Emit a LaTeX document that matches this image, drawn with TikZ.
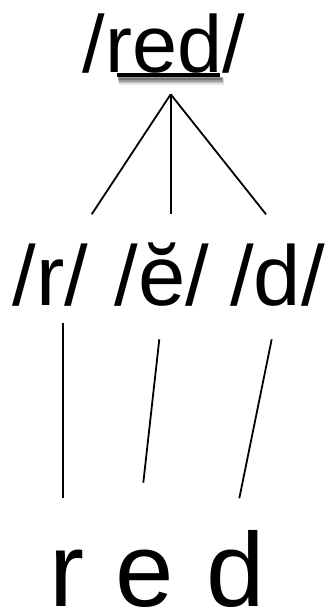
\documentclass[tikz,border=0pt]{standalone}
\usepackage{fontspec}
\setmainfont{Liberation Sans}
\begin{document}
\begin{tikzpicture}[x=1pt,y=-1pt,
  word/.style={inner sep=0pt, anchor=base},
  topfont/.style={font=\fontsize{81}{90}\selectfont},
  midfont/.style={font=\fontsize{85}{95}\selectfont},
  botfont/.style={font=\fontsize{105}{115}\selectfont, text depth=0pt},
  link/.style={line width=1.8pt, line cap=butt}]
\useasboundingbox (0,0) rectangle (327,610);
% top word
\node[word, topfont] (top) at (164,73) {/red/};
% underline shadow
\foreach \o/\a in {4/0.10,3/0.15,2/0.2,1/0.25}{
  \fill[black, opacity=\a] (117+0.5*\o,76+\o*0.5) rectangle (221+\o*0.8,78+\o*1.8);
}
\fill[black] (116.7,73.3) rectangle (220,77.3);
% middle row
\node[word, midfont] (pr) at (50.5,305) {/r/};
\node[word, midfont] (pe) at (162,305) {/ĕ/};
\node[word, midfont] (pd) at (277.5,305) {/d/};
% bottom row
\node[word, botfont] (br) at (67,606) {r};
\node[word, botfont] (be) at (145,606) {e};
\node[word, botfont] (bd) at (236,606) {d};
% connector endpoints
\coordinate (apex) at (170.7,94.3);
\coordinate (t1) at (91.7,214.3);
\coordinate (t2) at (170.7,214.3);
\coordinate (t3) at (266,214.3);
\coordinate (m1a) at (63.3,323.3);
\coordinate (m1b) at (63.3,498.3);
\coordinate (m2a) at (159.3,339.3);
\coordinate (m2b) at (143.3,482.7);
\coordinate (m3a) at (271.7,339.3);
\coordinate (m3b) at (239.3,498.3);
\draw[link] (apex) -- (t1);
\draw[link] (apex) -- (t2);
\draw[link] (apex) -- (t3);
\draw[link] (m1a) -- (m1b);
\draw[link] (m2a) -- (m2b);
\draw[link] (m3a) -- (m3b);
\end{tikzpicture}
\end{document}
